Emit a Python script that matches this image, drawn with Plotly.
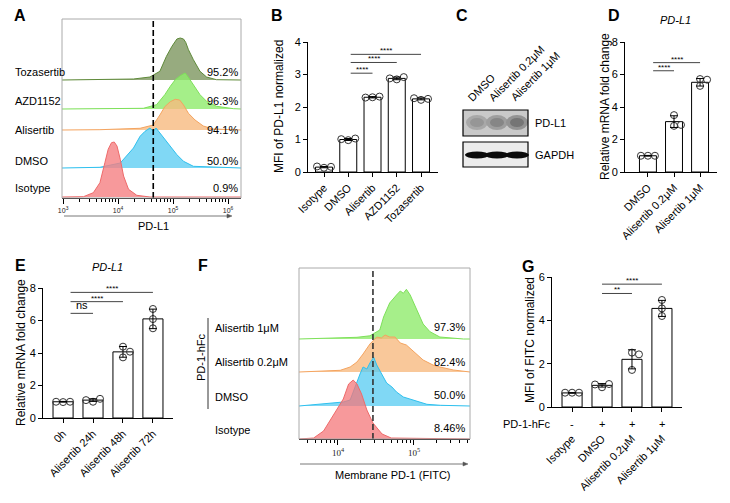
import numpy as np
import plotly.graph_objects as go

W, H = 730, 503
FONT = "Liberation Sans, Arial, Helvetica, sans-serif"
SERIF = "Liberation Serif, Times New Roman, serif"

# ================= DATA =================
# Panel A : PD-L1 flow histograms (log10 intensity, relative count)
A_labels = ["Tozasertib", "AZD1152", "Alisertib", "DMSO", "Isotype"]
A_percent = ["95.2%", "96.3%", "94.1%", "50.0%", "0.9%"]
A_toza_logx = [4.28, 4.58, 4.76, 4.88, 4.98, 5.07, 5.13, 5.19, 5.23, 5.28, 5.37, 5.49, 5.61, 5.79]
A_toza_count = [1, 3, 8.7, 23.7, 33.7, 41, 42, 41, 37.7, 30.3, 20.3, 8.7, 3, 0.3]
A_azd_logx = [4.46, 4.70, 4.85, 4.95, 5.04, 5.13, 5.18, 5.22, 5.26, 5.31, 5.40, 5.49, 5.61, 5.79, 6.10]
A_azd_count = [0.7, 4.3, 14.3, 22.7, 29.3, 33.3, 35.3, 36, 33.3, 29.3, 22, 14.3, 7.7, 2.7, 0.3]
A_ali_logx = [3.67, 4.40, 4.64, 4.76, 4.85, 4.95, 5.04, 5.12, 5.19, 5.28, 5.40, 5.55, 5.73]
A_ali_count = [0.3, 1.7, 5, 15, 23.3, 28.3, 30.7, 30, 25, 16.7, 10, 4, 1]
A_dmso_logx = [3.67, 4.04, 4.28, 4.40, 4.49, 4.58, 4.64, 4.69, 4.76, 4.85, 4.95, 5.07, 5.19, 5.37]
A_dmso_count = [0.7, 5, 20, 31.7, 36.7, 40, 36.7, 40, 35, 28.3, 21.7, 13.3, 6.7, 1.7]
A_iso_logx = [3.37, 3.55, 3.67, 3.76, 3.82, 3.88, 3.93, 3.98, 4.04, 4.10, 4.19, 4.34, 4.58]
A_iso_count = [0.3, 4.3, 14.3, 34.3, 47.7, 54.3, 55, 51, 37.7, 21, 7.7, 1.7, 0]
A_gate_log = 4.64
A_tickvals = [1e3, 1e4, 1e5, 1e6]
A_ticktext = ["10<sup>3</sup>", "10<sup>4</sup>", "10<sup>5</sup>", "10<sup>6</sup>"]

# Panel B : MFI of PD-L1 normalized
B_groups = ["Isotype", "DMSO", "Alisertib", "AZD1152", "Tozasertib"]
B_mean = [0.15, 1.0, 2.30, 2.88, 2.25]
B_sd = [0.02, 0.03, 0.02, 0.04, 0.03]
B_points = [[0.13, 0.16, 0.17], [0.98, 1.03, 1.01], [2.30, 2.32, 2.29],
            [2.85, 2.92, 2.88], [2.22, 2.25, 2.27]]
B_sig = [(1, 2, 3.04, "****"), (1, 3, 3.37, "****"), (1, 4, 3.62, "****")]

# Panel C : western blot
C_lanes = ["DMSO", "Alisertib 0.2μM", "Alisertib 1μM"]
C_pdl1_intensity = [0.45, 0.6, 0.75]
C_gapdh_intensity = [1.0, 1.0, 1.0]

# Panel D : PD-L1 mRNA
D_groups = ["DMSO", "Alisertib 0.2μM", "Alisertib 1μM"]
D_mean = [1.0, 3.1, 5.52]
D_sd = [0.02, 0.36, 0.23]
D_points = [[1.0, 1.0, 1.0], [3.5, 2.84, 2.9], [5.72, 5.68, 5.3]]
D_sig = [(0, 1, 6.23, "****"), (0, 2, 6.73, "****")]

# Panel E : PD-L1 mRNA time course
E_groups = ["0h", "Alisertib 24h", "Alisertib 48h", "Alisertib 72h"]
E_mean = [1.0, 1.1, 4.07, 6.1]
E_sd = [0.02, 0.08, 0.33, 0.6]
E_points = [[0.98, 1.0, 1.0], [1.0, 1.18, 1.1], [4.39, 3.73, 4.08], [6.71, 6.09, 5.52]]
E_sig = [(0, 1, 6.44, "ns"), (0, 2, 7.16, "****"), (0, 3, 7.73, "****")]

# Panel F : membrane PD-1 (FITC) histograms
F_labels = ["Alisertib 1μM", "Alisertib 0.2μM", "DMSO", "Isotype"]
F_percent = ["97.3%", "82.4%", "50.0%", "8.46%"]
F_1um_logx = [4.25, 4.42, 4.55, 4.60, 4.68, 4.77, 4.82, 4.86, 4.90, 4.95, 5.04, 5.12, 5.21, 5.34, 5.65]
F_1um_count = [1.7, 3.2, 9, 22, 36, 44, 48, 45.7, 49.7, 44, 28, 15, 7.3, 2, 0]
F_02_logx = [4.03, 4.16, 4.25, 4.33, 4.42, 4.51, 4.57, 4.62, 4.68, 4.75, 4.82, 4.90, 5.04, 5.12, 5.25, 5.34, 5.52, 5.69]
F_02_count = [1.7, 5, 10, 18, 28, 35, 34, 37, 35, 35, 29, 27, 17, 12, 7, 5, 2, 0.7]
F_dmso_logx = [3.89, 4.07, 4.16, 4.22, 4.29, 4.33, 4.38, 4.42, 4.47, 4.51, 4.57, 4.64, 4.71, 4.77, 4.86, 4.99, 5.17, 5.35]
F_dmso_count = [2.3, 4, 6, 19, 32, 39, 37, 43, 48.7, 41, 32, 23, 19, 14, 9, 6, 1.7, 0.7]
F_iso_logx = [3.68, 3.81, 3.94, 4.07, 4.14, 4.20, 4.25, 4.31, 4.38, 4.46, 4.58, 4.70]
F_iso_count = [1, 8, 24, 40, 55, 59, 55, 45, 29, 16, 5, 1]
F_gate_log = 4.46
F_tickvals = [1e4, 1e5]
F_ticktext = ["10<sup>4</sup>", "10<sup>5</sup>"]

# Panel G : MFI of FITC normalized
G_groups = ["Isotype", "DMSO", "Alisertib 0.2μM", "Alisertib 1μM"]
G_hfc = ["-", "+", "+", "+"]
G_mean = [0.65, 1.0, 2.2, 4.55]
G_sd = [0.01, 0.08, 0.44, 0.37]
G_points = [[0.66, 0.66, 0.66], [0.91, 1.06, 1.04], [2.51, 2.43, 1.71], [4.94, 4.55, 4.2]]
G_sig = [(1, 2, 5.24, "**"), (1, 3, 5.67, "****")]

# ================= helpers =================
def X(px):
    return px / W


def Y(py):
    return 1 - py / H


def dom_x(a, b):
    return [a / W, b / W]


def dom_y(top, bot):
    return [1 - bot / H, 1 - top / H]


def rgba_over_white(rgb, a):
    c = [max(0, min(255, (v - (1 - a) * 255) / a)) for v in rgb]
    return "rgba(%d,%d,%d,%.2f)" % (c[0], c[1], c[2], a)


annotations = []
shapes = []
traces = []


def ann(text, x, y, size=11, xanchor="center", yanchor="middle", angle=0, color="black",
        family=FONT, xref="paper", yref="paper", yshift=0):
    annotations.append(dict(
        text=text, x=X(x) if xref == "paper" else x, y=Y(y) if yref == "paper" else y,
        xref=xref, yref=yref, showarrow=False, xanchor=xanchor, yanchor=yanchor,
        textangle=angle, font=dict(size=size, color=color, family=family), yshift=yshift))


def arrow(x0, x1, y, color="#555"):
    shapes.append(dict(type="line", xref="paper", yref="paper", x0=X(x0), x1=X(x1 - 3), y0=Y(y), y1=Y(y),
                       line=dict(color=color, width=0.8)))
    path = "M %f,%f L %f,%f L %f,%f Z" % (X(x1), Y(y), X(x1 - 5), Y(y - 2), X(x1 - 5), Y(y + 2))
    shapes.append(dict(type="path", xref="paper", yref="paper", path=path, fillcolor=color,
                       line=dict(color=color, width=0.5)))


def swarm(vals, ppu_y, ppu_x, d=7.0):
    placed = []
    offs = []
    for v in vals:
        yv = v * ppu_y
        for cand in [0, d, -d, 2 * d, -2 * d]:
            if all(((cand - px) ** 2 + (yv - py) ** 2) ** 0.5 >= d * 0.95 for px, py in placed):
                break
        placed.append((cand, yv))
        offs.append(cand / ppu_x)
    return offs


def hist_row(logx, counts, base, xmin, xmax, fill, line, xa, ya):
    xs = [10 ** xmin] + [10 ** v for v in logx] + [10 ** xmax]
    ys = [base] + [base + c for c in counts] + [base]
    traces.append(go.Scatter(x=xs, y=ys, mode="lines", fill="toself", fillcolor=fill,
                             line=dict(color=line, width=1), xaxis=xa, yaxis=ya,
                             hoverinfo="skip"))


def bar_panel(groups, means, sds, points, sig, xa, ya, width, ppu_x, ppu_y, sig_start=0.15):
    n = len(groups)
    traces.append(go.Bar(x=list(range(n)), y=means, width=width,
                         marker=dict(color="white", line=dict(color="black", width=1)),
                         xaxis=xa, yaxis=ya, hoverinfo="skip"))
    px_, py_ = [], []
    for i, pts in enumerate(points):
        offs = swarm(pts, ppu_y, ppu_x)
        for o, v in zip(offs, pts):
            px_.append(i + o)
            py_.append(v)
    traces.append(go.Scatter(x=px_, y=py_, mode="markers", xaxis=xa, yaxis=ya,
                             marker=dict(symbol="circle-open", size=7, color="#333",
                                         line=dict(width=1)), hoverinfo="skip"))
    traces.append(go.Scatter(x=list(range(n)), y=means, mode="markers", xaxis=xa, yaxis=ya,
                             marker=dict(size=1, color="rgba(0,0,0,0)"),
                             error_y=dict(type="data", array=sds, color="black",
                                          thickness=1, width=4), hoverinfo="skip"))
    for a, b, yv, lab in sig:
        traces.append(go.Scatter(x=[a + sig_start, b], y=[yv, yv], mode="lines",
                                 line=dict(color="#444", width=1), xaxis=xa, yaxis=ya,
                                 hoverinfo="skip"))
        if lab == "ns":
            ann(lab, (a + sig_start + b) / 2, yv, size=11, yanchor="bottom",
                xref=xa, yref=ya, yshift=0)
        else:
            ann(lab, (a + sig_start + b) / 2, yv, size=8, yanchor="bottom",
                xref=xa, yref=ya, yshift=-3)


# ================= Panel A =================
A_xr = [2.98, 6.236]
A_bases = [118, 89, 68, 30, 1]
A_fill_rgb = [(151, 171, 127), (166, 239, 138), (249, 200, 154), (128, 216, 245), (247, 153, 155)]
A_line = ["#5f8a3a", "#7ee05a", "#f4a460", "#2fc0ee", "#ee6a6a"]
A_data = [(A_toza_logx, A_toza_count), (A_azd_logx, A_azd_count), (A_ali_logx, A_ali_count),
          (A_dmso_logx, A_dmso_count), (A_iso_logx, A_iso_count)]
for (lx, cnt), base, frgb, lc in zip(A_data, A_bases, A_fill_rgb, A_line):
    hist_row(lx, cnt, base, A_xr[0], A_xr[1], rgba_over_white(frgb, 0.8), lc, "x", "y")
traces.append(go.Scatter(x=[10 ** A_gate_log] * 2, y=[0, 179], mode="lines",
                         line=dict(color="black", width=1.6, dash="6px,3px"),
                         xaxis="x", yaxis="y", hoverinfo="skip"))
shapes.append(dict(type="rect", xref="paper", yref="paper", x0=X(62), x1=X(241), y0=Y(198), y1=Y(19),
                   line=dict(color="#aaa", width=1)))
for lab, yy in zip(A_labels, [72, 101, 130, 161, 188]):
    ann(lab, 13, yy, xanchor="left")
for lab, yy in zip(A_percent, [72, 101, 130, 161, 188]):
    ann(lab, 240, yy, xanchor="right")
arrow(64, 232, 216)
ann("PD-L1", 153, 226)

# ================= Panel B =================
bar_panel(B_groups, B_mean, B_sd, B_points, B_sig, "x2", "y2", 0.7, 24.3, 32.5, sig_start=0.1)
ann("MFI of PD-L1 normalized", 279, 107, size=12, angle=-90)

# ================= Panel C (blot) =================
bx0, bx1 = 463, 528
lane_x = [477, 497, 517]
shapes.append(dict(type="rect", xref="paper", yref="paper", x0=X(bx0), x1=X(bx1), y0=Y(136), y1=Y(110),
                   fillcolor="#c9c9c9", line=dict(width=0)))
for lx, inten in zip(lane_x, C_pdl1_intensity):
    g1 = int(200 - 70 * inten)
    g2 = int(200 - 110 * inten)
    shapes.append(dict(type="circle", xref="paper", yref="paper", x0=X(lx - 11), x1=X(lx + 11),
                       y0=Y(130), y1=Y(115), fillcolor="rgb(%d,%d,%d)" % (g1, g1, g1), line=dict(width=0)))
    shapes.append(dict(type="circle", xref="paper", yref="paper", x0=X(lx - 7), x1=X(lx + 7),
                       y0=Y(127), y1=Y(118), fillcolor="rgb(%d,%d,%d)" % (g2, g2, g2), line=dict(width=0)))
shapes.append(dict(type="rect", xref="paper", yref="paper", x0=X(bx0), x1=X(bx1), y0=Y(136), y1=Y(110),
                   line=dict(color="black", width=1.2)))
shapes.append(dict(type="rect", xref="paper", yref="paper", x0=X(bx0), x1=X(bx1), y0=Y(167), y1=Y(142),
                   fillcolor="#ececec", line=dict(width=0)))
for lx, inten in zip(lane_x, C_gapdh_intensity):
    g = int(200 - 190 * inten)
    shapes.append(dict(type="circle", xref="paper", yref="paper", x0=X(lx - 12), x1=X(lx + 12),
                       y0=Y(158.5), y1=Y(151.5), fillcolor="rgb(%d,%d,%d)" % (g, g, g), line=dict(width=0)))
shapes.append(dict(type="rect", xref="paper", yref="paper", x0=X(bx0), x1=X(bx1), y0=Y(167), y1=Y(142),
                   line=dict(color="black", width=1.2)))
ann("PD-L1", 533, 123, xanchor="left")
ann("GAPDH", 533, 155, xanchor="left")
# rotated lane labels, placed by their centre (start point + half length along 45 deg)
for lab, (sx, sy), L in zip(C_lanes, [(472, 103), (493, 103), (515, 102)], [34, 76, 66]):
    cx = sx + L / 2 * 0.707 - 3
    cy = sy - L / 2 * 0.707 - 3
    ann(lab, cx, cy, size=11, angle=-45)

# ================= Panel D =================
bar_panel(D_groups, D_mean, D_sd, D_points, D_sig, "x3", "y3", 0.65, 26, 16.3, sig_start=0.2)
ann("Relative mRNA fold change", 605, 107, size=12, angle=-90)
ann("<i>PD-L1</i>", 675, 20)

# ================= Panel E =================
bar_panel(E_groups, E_mean, E_sd, E_points, E_sig, "x4", "y4", 0.67, 30, 16.25, sig_start=0.25)
ann("Relative mRNA fold change", 21, 353, size=12, angle=-90)
ann("<i>PD-L1</i>", 107, 267)

# ================= Panel F =================
F_xr = [3.487, 5.737]
F_bases = [100, 67, 33, 0]
F_fill_rgb = [(166, 239, 138), (249, 200, 154), (128, 216, 245), (247, 153, 155)]
F_line = ["#7ee05a", "#f4a460", "#2fc0ee", "#ee6a6a"]
F_data = [(F_1um_logx, F_1um_count), (F_02_logx, F_02_count),
          (F_dmso_logx, F_dmso_count), (F_iso_logx, F_iso_count)]
for (lx, cnt), base, frgb, lc in zip(F_data, F_bases, F_fill_rgb, F_line):
    hist_row(lx, cnt, base, F_xr[0], F_xr[1], rgba_over_white(frgb, 0.75), lc, "x5", "y5")
traces.append(go.Scatter(x=[10 ** F_gate_log] * 2, y=[0, 171], mode="lines",
                         line=dict(color="#333", width=1.6, dash="6px,3px"),
                         xaxis="x5", yaxis="y5", hoverinfo="skip"))
shapes.append(dict(type="rect", xref="paper", yref="paper", x0=X(299), x1=X(470), y0=Y(439), y1=Y(268),
                   line=dict(color="#aaa", width=1)))
for lab, yy in zip(F_labels, [328, 362, 397, 430]):
    ann(lab, 213, yy, xanchor="left")
for lab, yy in zip(F_percent, [327, 362, 395, 428]):
    ann(lab, 467, yy, xanchor="right")
shapes.append(dict(type="line", xref="paper", yref="paper", x0=X(208), x1=X(208), y0=Y(318), y1=Y(409),
                   line=dict(color="#333", width=1)))
ann("PD-1-hFc", 201, 357, angle=-90)
arrow(300, 468, 464)
ann("Membrane PD-1 (FITC)", 393, 475)

# ================= Panel G =================
bar_panel(G_groups, G_mean, G_sd, G_points, G_sig, "x6", "y6", 0.67, 30, 21.67, sig_start=0.0)
ann("MFI of FITC normalized", 530, 340, size=12, angle=-90)
ann("PD-1-hFc", 553, 424, xanchor="right")
for i, s in enumerate(G_hfc):
    ann(s, i, 424, xref="x6", yref="paper")

# panel letters
for L, (lx, ly) in zip("ABCDEFG", [(20, 15), (277, 15), (462, 15), (614, 15), (20, 265), (203, 265), (528, 266)]):
    ann("<b>%s</b>" % L, lx, ly, size=16)

# ================= layout =================
def minor_vals(lo, hi):
    return [k * 10 ** d for d in range(lo, hi) for k in range(2, 10)]


base_ax = dict(showgrid=False, zeroline=False, showline=True, linecolor="black", linewidth=1,
               ticks="outside", ticklen=4, tickcolor="black", tickwidth=1, automargin=False,
               tickfont=dict(size=11, family=FONT, color="black"))


def bar_x(dom, anchor, groups, rng, **kw):
    d = dict(base_ax, domain=dom, anchor=anchor, range=rng, tickmode="array",
             tickvals=list(range(len(groups))), ticktext=groups, tickangle=-45)
    d.update(kw)
    return d


def bar_y(dom, anchor, rng, dtick):
    return dict(base_ax, domain=dom, anchor=anchor, range=rng, tickmode="linear", tick0=0, dtick=dtick)


layout = dict(
    width=W, height=H, margin=dict(l=0, r=0, t=0, b=0, pad=0, autoexpand=False),
    paper_bgcolor="white", plot_bgcolor="white",
    showlegend=False, hovermode=False, font=dict(family=FONT, size=11, color="black"),
    xaxis=dict(base_ax, domain=dom_x(62, 241), anchor="y", type="log", range=A_xr, tickmode="array",
               tickvals=A_tickvals, ticktext=A_ticktext, ticklen=5, linewidth=1.3,
               tickfont=dict(size=7, family=FONT, color="#222"),
               minor=dict(tickvals=minor_vals(2, 7), ticks="outside", ticklen=2.5, tickcolor="black")),
    yaxis=dict(domain=dom_y(19, 198), anchor="x", range=[0, 179], visible=False, automargin=False),
    xaxis2=bar_x(dom_x(308, 438), "y2", B_groups, [-0.66, 4.7]),
    yaxis2=bar_y(dom_y(42, 172), "x2", [0, 4], 1),
    xaxis3=bar_x(dom_x(625, 717), "y3", D_groups, [-0.88, 2.65]),
    yaxis3=bar_y(dom_y(42, 172), "x3", [0, 8], 2),
    xaxis4=bar_x(dom_x(43, 173), "y4", E_groups, [-0.67, 3.67]),
    yaxis4=bar_y(dom_y(288, 418), "x4", [0, 8], 2),
    xaxis5=dict(base_ax, domain=dom_x(299, 470), anchor="y5", type="log", range=F_xr, tickmode="array",
                tickvals=F_tickvals, ticktext=F_ticktext, ticklen=5, linewidth=1.3,
                tickfont=dict(size=9, family=SERIF, color="#222"),
                minor=dict(tickvals=minor_vals(3, 6), ticks="outside", ticklen=2.5, tickcolor="black")),
    yaxis5=dict(domain=dom_y(268, 439), anchor="x5", range=[0, 171], visible=False, automargin=False),
    xaxis6=bar_x(dom_x(552, 682), "y6", G_groups, [-0.67, 3.67], ticklabelstandoff=16),
    yaxis6=bar_y(dom_y(277, 407), "x6", [0, 6], 2),
    annotations=annotations, shapes=shapes,
)

fig = go.Figure(data=traces, layout=layout)
fig.write_html("out.html", config={"displayModeBar": False, "staticPlot": True},
               post_script="document.body.style.margin='0px';document.body.style.padding='0px';")
